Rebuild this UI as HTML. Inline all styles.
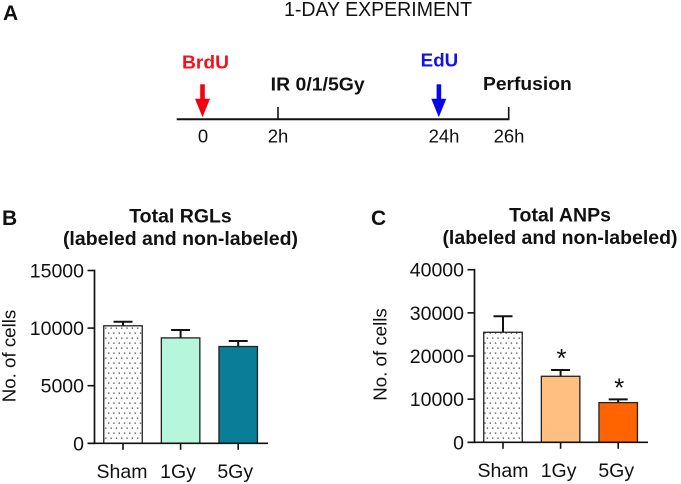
<!DOCTYPE html>
<html>
<head>
<meta charset="utf-8">
<style>
html,body{margin:0;padding:0;background:#fff;}
svg{display:block;}
text{font-family:"Liberation Sans",Arial,sans-serif;fill:#111;}
</style>
</head>
<body>
<svg id="fig" width="681" height="484" viewBox="0 0 681 484" xmlns="http://www.w3.org/2000/svg">
  <defs>
    <pattern id="dots" width="10.6" height="10" patternUnits="userSpaceOnUse" x="0.5" y="0.5">
      <rect x="1.5" y="2" width="1.3" height="1.3" fill="#444"/>
      <rect x="6.8" y="2" width="1.3" height="1.3" fill="#444"/>
      <rect x="4" y="7" width="1.3" height="1.3" fill="#444"/>
      <rect x="9.3" y="7" width="1.3" height="1.3" fill="#444"/>
    </pattern>
  </defs>
  <g>
    <text x="3" y="20" font-size="21" font-weight="bold">A</text>
    <text x="284" y="16" font-size="20" textLength="188" lengthAdjust="spacingAndGlyphs">1-DAY EXPERIMENT</text>
    <text x="182" y="68.5" font-size="18.5" font-weight="bold" style="fill:#f5101c" textLength="47" lengthAdjust="spacingAndGlyphs">BrdU</text>
    <text x="420.7" y="66.7" font-size="18.5" font-weight="bold" style="fill:#1414e0" textLength="37.5" lengthAdjust="spacingAndGlyphs">EdU</text>
    <text x="270.7" y="90.7" font-size="18.5" font-weight="bold" textLength="94" lengthAdjust="spacingAndGlyphs">IR 0/1/5Gy</text>
    <text x="483" y="90" font-size="18.5" font-weight="bold" textLength="88.7" lengthAdjust="spacingAndGlyphs">Perfusion</text>
    <line x1="176.7" y1="119.3" x2="509.5" y2="119.3" stroke="#111" stroke-width="2"/>
    <line x1="278" y1="107" x2="278" y2="120" stroke="#111" stroke-width="1.6"/>
    <line x1="508.7" y1="107" x2="508.7" y2="120" stroke="#111" stroke-width="1.6"/>
    <g>
      <rect x="200.2" y="84.3" width="4.6" height="15" fill="#f50010"/>
      <polygon points="195,98.7 210,98.7 202.5,117.3" fill="#f50010"/>
    </g>
    <g>
      <rect x="436.6" y="84.3" width="4.6" height="15" fill="#0808e8"/>
      <polygon points="431.3,98.7 446.3,98.7 438.8,117.3" fill="#0808e8"/>
    </g>
    <text x="203" y="142.7" font-size="18.5" text-anchor="middle">0</text>
    <text x="278" y="142.7" font-size="18.5" text-anchor="middle">2h</text>
    <text x="444" y="142.7" font-size="18.5" text-anchor="middle">24h</text>
    <text x="509" y="142.7" font-size="18.5" text-anchor="middle">26h</text>
  </g>
</svg>
<script>
var categories = ['Sham', '1Gy', '5Gy'];
var rglValues = [10200, 9150, 8400];
var rglErrors = [350, 680, 480];
var rglTicks = [0, 5000, 10000, 15000];
var anpValues = [25500, 15300, 9200];
var anpErrors = [3700, 1450, 750];
var anpTicks = [0, 10000, 20000, 30000, 40000];
var anpMarks = ['', '*', '*'];

var NS = 'http://www.w3.org/2000/svg';
var fig = document.getElementById('fig');

function make(tag, attrs, parent) {
  var el = document.createElementNS(NS, tag);
  for (var k in attrs) { el.setAttribute(k, attrs[k]); }
  parent.appendChild(el);
  return el;
}

function drawPanel(cfg) {
  var g = make('g', {}, fig);
  
  
  var maxTick = cfg.ticks[cfg.ticks.length - 1];
  function y(v) { return cfg.bottom - (v / maxTick) * (cfg.bottom - cfg.top); }
  function x(i) { return cfg.firstCenter + i * cfg.step; }

  cfg.values.forEach(function (v, i) {
    var left = x(i) - cfg.barWidth / 2;
    var top = y(v);
    var errTop = y(v + cfg.errors[i]);
    var stem = make('line', {x1: x(i), x2: x(i), y1: top, y2: errTop, stroke: '#111', 'stroke-width': 2}, g);
    
    
    var cap = make('line', {x1: x(i) - 9.5, x2: x(i) + 9.5, y1: errTop, y2: errTop, stroke: '#111', 'stroke-width': 2}, g);
    
    
    var bar = make('rect', {x: left, y: top, width: cfg.barWidth, height: cfg.bottom - top, fill: cfg.fills[i], stroke: '#222', 'stroke-width': 1.3}, g);
    
    
    var tick = make('line', {x1: x(i), x2: x(i), y1: cfg.bottom, y2: cfg.bottom + 6.5, stroke: '#111', 'stroke-width': 1.6}, g);
    
    
    var label = make('text', {x: x(i) + cfg.labelShift[i], y: cfg.bottom + 34.5, 'font-size': 19.5, 'text-anchor': 'middle'}, g);
    label.textContent = categories[i];
    
    
    if (cfg.marks && cfg.marks[i]) {
      var mark = make('text', {x: x(i) + 1, y: errTop - 3, 'font-size': 26, 'text-anchor': 'middle'}, g);
      mark.textContent = cfg.marks[i];
      
      
    }
  });

  var yAxis = make('line', {x1: cfg.axisX, x2: cfg.axisX, y1: cfg.top - 0.8, y2: cfg.bottom + 0.8, stroke: '#111', 'stroke-width': 1.7}, g);
  
  
  var xAxis = make('line', {x1: cfg.axisX - 7, x2: cfg.axisEnd, y1: cfg.bottom, y2: cfg.bottom, stroke: '#111', 'stroke-width': 1.7}, g);
  
  

  cfg.ticks.forEach(function (t) {
    var tk = make('line', {x1: cfg.axisX - 7, x2: cfg.axisX, y1: y(t), y2: y(t), stroke: '#111', 'stroke-width': 1.6}, g);
    
    
    var lb = make('text', {x: cfg.axisX - 10.5, y: y(t) + 7, 'font-size': 19.5, 'text-anchor': 'end'}, g);
    lb.textContent = String(t);
    
    
  });

  var yTitle = make('text', {x: 0, y: 0, 'font-size': 18.7, 'text-anchor': 'middle', transform: 'translate(' + cfg.yTitleX + ',' + cfg.yTitleY + ') rotate(-90)'}, g);
  yTitle.textContent = 'No. of cells';
  
  

  var t1 = make('text', {x: cfg.titleX, y: cfg.titleY, 'font-size': 19.5, 'font-weight': 'bold', 'text-anchor': 'middle'}, g);
  t1.textContent = cfg.title;
  
  
  var t2 = make('text', {x: cfg.titleX, y: cfg.titleY + 22.3, 'font-size': 19.5, 'font-weight': 'bold', 'text-anchor': 'middle'}, g);
  t2.textContent = '(labeled and non-labeled)';
  
  

  var p = make('text', {x: cfg.panelX, y: 225, 'font-size': 21, 'font-weight': 'bold'}, g);
  p.textContent = cfg.panel;
  
  
}

drawPanel({
  name: 'chart-total-rgls', panel: 'B', panelX: 2, title: 'Total RGLs', titleX: 180.5, titleY: 222.7,
  values: rglValues, errors: rglErrors, ticks: rglTicks,
  top: 270.5, bottom: 443.3, axisX: 94.5, axisEnd: 268,
  firstCenter: 123, step: 57.6, barWidth: 38.5,
  fills: ['url(#dots)', '#b5f6dd', '#0a7d98'],
  labelShift: [-1, -2.6, -3], yTitleX: 15.5, yTitleY: 356
});

drawPanel({
  name: 'chart-total-anps', panel: 'C', panelX: 371, title: 'Total ANPs', titleX: 560, titleY: 221.7,
  values: anpValues, errors: anpErrors, ticks: anpTicks, marks: anpMarks,
  top: 269.7, bottom: 442.3, axisX: 474.5, axisEnd: 648,
  firstCenter: 503, step: 57.6, barWidth: 38.5,
  fills: ['url(#dots)', '#ffbf80', '#ff6400'],
  labelShift: [0, -2, -2], yTitleX: 386.5, yTitleY: 354.5
});
</script>
</body>
</html>
